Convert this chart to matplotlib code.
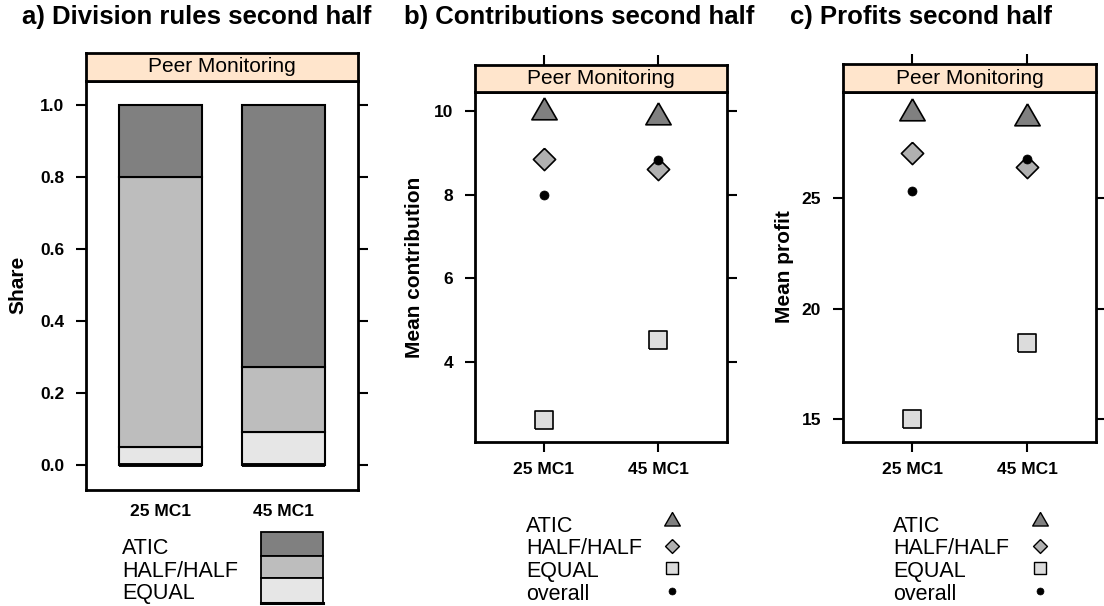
import numpy as np
import matplotlib
matplotlib.use("Agg")
import matplotlib.pyplot as plt
from matplotlib.patches import Rectangle

# ---------------- data ----------------
categories = ["25 MC1", "45 MC1"]
rules = ["ATIC", "HALF/HALF", "EQUAL"]
share_equal = [0.05, 0.0909]
share_half = [0.75, 0.1818]
share_atic = [0.20, 0.7273]

contrib_atic = [9.97, 9.86]
contrib_half = [8.85, 8.62]
contrib_equal = [2.60, 4.53]
contrib_overall = [7.99, 8.84]

profit_atic = [28.86, 28.65]
profit_half = [27.06, 26.40]
profit_equal = [15.0, 18.44]
profit_overall = [25.34, 26.76]

share_ticks = [0.0, 0.2, 0.4, 0.6, 0.8, 1.0]
share_ticklabels = ["0.0", "0.2", "0.4", "0.6", "0.8", "1.0"]
contrib_ticks = [4, 6, 8, 10]
profit_ticks = [15, 20, 25]

titles = ["a) Division rules second half", "b) Contributions second half", "c) Profits second half"]
ylabels = ["Share", "Mean contribution", "Mean profit"]
strip_text = "Peer Monitoring"
legend_point_labels = ["ATIC", "HALF/HALF", "EQUAL", "overall"]

# ---------------- style ----------------
plt.rcParams['font.family'] = ['Liberation Sans', 'DejaVu Sans']
W, H = 1104, 606
fig = plt.figure(figsize=(W / 100, H / 100), dpi=100)

C_ATIC = '#808080'
C_HALF = '#BDBDBD'
C_EQUAL = '#E6E6E6'
C_DIAM = '#B0B0B0'
C_SQ = '#DCDCDC'
STRIP = '#FFE5CC'

TRI = [(0, 1.1547), (-1, -0.5774), (1, -0.5774), (0, 1.1547)]
DIA = [(0, 1), (1, 0), (0, -1), (-1, 0), (0, 1)]
SQ = [(-1, -1), (1, -1), (1, 1), (-1, 1), (-1, -1)]

TICK_FS = 12.5
LAB_FS = 15


def add_ax(x0, y0, x1, y1, **kw):
    return fig.add_axes([x0 / W, 1 - y1 / H, (x1 - x0) / W, (y1 - y0) / H], **kw)


overlay = add_ax(0, 0, W, H)
overlay.set_xlim(0, W)
overlay.set_ylim(H, 0)
overlay.axis('off')

x = np.arange(1, len(categories) + 1)


def style_panel(ax, ylim, yticks, yticklabels, bottom_ticks):
    ax.set_xlim(0.4, 2.6)
    ax.set_ylim(*ylim)
    ax.set_xticks(x)
    ax.set_xticklabels(categories, fontweight='bold')
    ax.set_yticks(yticks)
    ax.set_yticklabels(yticklabels, fontweight='bold')
    for s in ax.spines.values():
        s.set_linewidth(2.0)
    ax.tick_params(axis='y', left=True, right=True, direction='out', length=7.2,
                   width=1.5, pad=8.5, labelsize=TICK_FS)
    if bottom_ticks:
        ax.tick_params(axis='x', bottom=True, direction='out', length=7.2,
                       width=1.5, pad=7.5, labelsize=TICK_FS)
    else:
        ax.tick_params(axis='x', bottom=True, length=0, pad=10, labelsize=TICK_FS)


def add_strip(x0, y0, x1, y1, top_ticks):
    s = add_ax(x0, y0, x1, y1)
    s.set_facecolor(STRIP)
    s.set_xlim(0.4, 2.6)
    s.set_ylim(0, 1)
    s.set_yticks([])
    for sp in s.spines.values():
        sp.set_linewidth(2.0)
    if top_ticks:
        s.set_xticks(x)
        s.tick_params(axis='x', bottom=False, top=True, labelbottom=False, labeltop=False,
                      direction='out', length=7.2, width=1.5)
    else:
        s.set_xticks([])
    s.text(0.5, 0.5, strip_text, transform=s.transAxes, ha='center', va='center',
           fontsize=LAB_FS)
    return s


# ---------------- panel a ----------------
axA = add_ax(86, 81, 358, 490)
style_panel(axA, (-0.0694, 1.0667), share_ticks, share_ticklabels, bottom_ticks=False)
add_strip(86, 53, 358, 81, top_ticks=False)
bw = 0.67
eq = np.array(share_equal)
hf = np.array(share_half)
at = np.array(share_atic)
axA.bar(x, eq, bw, color=C_EQUAL, edgecolor='black', linewidth=1.5)
axA.bar(x, hf, bw, bottom=eq, color=C_HALF, edgecolor='black', linewidth=1.5)
axA.bar(x, at, bw, bottom=eq + hf, color=C_ATIC, edgecolor='black', linewidth=1.5)
axA.hlines(np.zeros(len(x)), x - bw / 2, x + bw / 2, colors='black', linewidth=2.8)


# ---------------- point panels ----------------
def draw_points(ax, atic, half, equal, overall):
    ax.plot(x, atic, ls='none', marker=TRI, ms=21, mfc=C_ATIC, mec='black', mew=1.2)
    ax.plot(x, half, ls='none', marker=DIA, ms=16, mfc=C_DIAM, mec='black', mew=1.2)
    ax.plot(x, equal, ls='none', marker=SQ, ms=12.5, mfc=C_SQ, mec='black', mew=1.2)
    ax.plot(x, overall, ls='none', marker='o', ms=6.5, mfc='black', mec='black', mew=0.5)


axB = add_ax(475, 92, 727, 442)
style_panel(axB, (2.081, 10.455), contrib_ticks, [str(t) for t in contrib_ticks], True)
add_strip(475, 65, 727, 92, top_ticks=True)
draw_points(axB, contrib_atic, contrib_half, contrib_equal, contrib_overall)

axC = add_ax(843, 92, 1096, 442)
style_panel(axC, (13.973, 29.81), profit_ticks, [str(t) for t in profit_ticks], True)
add_strip(843, 64, 1096, 92, top_ticks=True)
draw_points(axC, profit_atic, profit_half, profit_equal, profit_overall)

# ---------------- titles & labels ----------------
for tx, t in zip([22, 404, 790], titles):
    overlay.text(tx, 17, t, fontsize=18.5, fontweight='bold', ha='left', va='center')

for lx, ly, t in zip([18, 415, 785], [285, 267, 267], ylabels):
    overlay.text(lx, ly, t, fontsize=LAB_FS, fontweight='bold', rotation=90,
                 ha='center', va='center')

# ---------------- legends ----------------
# panel a legend
for yb, lab in zip([554, 577, 599], rules):
    overlay.text(122, yb, lab, fontsize=15.5, ha='left', va='baseline')
box_edges = [532, 556, 578, 603]
for i, col in enumerate([C_ATIC, C_HALF, C_EQUAL]):
    overlay.add_patch(Rectangle((261, box_edges[i]), 62, box_edges[i + 1] - box_edges[i],
                                facecolor=col, edgecolor='black', linewidth=1.3))
overlay.plot([261, 323], [603, 603], color='black', linewidth=2.2)

# panels b, c legends
leg_base = [531.5, 554.5, 577, 599.5]
leg_mark_y = [521, 546, 568, 591]
leg_markers = [dict(marker=TRI, ms=13, mfc=C_ATIC, mec='black', mew=1.0),
               dict(marker=DIA, ms=10, mfc=C_DIAM, mec='black', mew=1.0),
               dict(marker=SQ, ms=8, mfc=C_SQ, mec='black', mew=1.0),
               dict(marker='o', ms=5, mfc='black', mec='black', mew=0.5)]
for tx, mx in [(526, 672), (893, 1040)]:
    for yb, ym, lab, mk in zip(leg_base, leg_mark_y, legend_point_labels, leg_markers):
        overlay.text(tx, yb, lab, fontsize=15.5, ha='left', va='baseline')
        overlay.plot([mx], [ym], ls='none', **mk)

fig.savefig('out.png', dpi=100)
